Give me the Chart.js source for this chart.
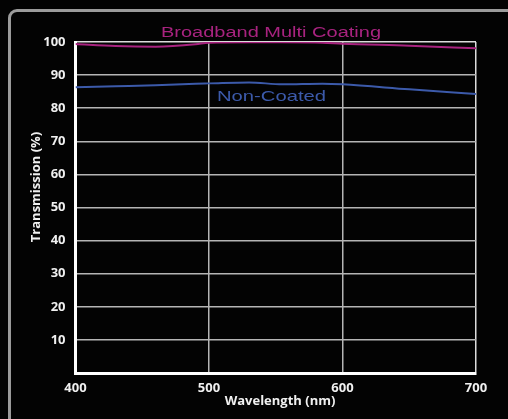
<!DOCTYPE html>
<html>
<head>
<meta charset="utf-8">
<script src="https://cdn.jsdelivr.net/npm/chart.js@4/dist/chart.umd.min.js"></script>
<style>
  html, body { margin: 0; padding: 0; background: #030303; overflow: hidden; }
  #frame {
    position: absolute; left: 8px; top: 9px; width: 540px; height: 450px;
    border: 3px solid #9b9b9b; border-radius: 9px; background: #030303;
  }
  #chart { position: absolute; left: 0; top: 0; }
</style>
</head>
<body>
<div id="frame"></div>
<canvas id="chart" width="508" height="419"></canvas>
<script>
// wavelength (nm) and transmission (%)
const wavelengths = [400, 430, 460, 490, 500, 530, 555, 585, 600, 650, 700];
const multiCoating = [99.4, 98.8, 98.6, 99.3, 99.8, 99.9, 99.9, 99.8, 99.5, 98.9, 98.1];
const nonCoated = [86.3, 86.6, 86.9, 87.4, 87.5, 87.8, 87.2, 87.4, 87.2, 85.7, 84.3];

const seriesNames = ['Broadband Multi Coating', 'Non-Coated'];
const xTitle = 'Wavelength (nm)';
const yTitle = 'Transmission (%)';

const MAGENTA = '#a8237f';
const BLUE = '#3c5aaa';
const TICK_FONT = { family: 'Open Sans', weight: 'bold', size: 13 };

// draws the in-chart series labels and both axis titles
const labelPlugin = {
    id: 'labels',
    afterDraw(chart) {
        const ctx = chart.ctx;

        function stretched(text, x, y, width, color, size) {
            ctx.save();
            ctx.font = size + 'px "Liberation Sans", Arial, sans-serif';
            ctx.fillStyle = color;
            ctx.textBaseline = 'alphabetic';
            const w = ctx.measureText(text).width;
            ctx.translate(x, y);
            ctx.scale(width / w, 1);
            ctx.fillText(text, 0, 0);
            ctx.restore();
        }
        stretched(seriesNames[0], 161, 36.5, 220, MAGENTA, 15.5);
        stretched(seriesNames[1], 217, 101, 109, BLUE, 14.5);

        ctx.save();
        ctx.font = 'bold 13px "Open Sans", sans-serif';
        ctx.fillStyle = '#f0f0f0';
        ctx.textAlign = 'center';
        ctx.textBaseline = 'middle';
        ctx.fillText(xTitle, 280, 401.5);
        ctx.translate(36, 187);
        ctx.rotate(-Math.PI / 2);
        ctx.fillText(yTitle, 0, 0);
        ctx.restore();
    }
};

new Chart(document.getElementById('chart'), {
    type: 'line',
    data: {
        labels: wavelengths,
        datasets: [
            {
                label: seriesNames[0],
                data: wavelengths.map((w, i) => ({ x: w, y: multiCoating[i] })),
                borderColor: MAGENTA,
                borderWidth: 2,
                pointRadius: 0,
                cubicInterpolationMode: 'monotone'
            },
            {
                label: seriesNames[1],
                data: wavelengths.map((w, i) => ({ x: w, y: nonCoated[i] })),
                borderColor: BLUE,
                borderWidth: 2,
                pointRadius: 0,
                cubicInterpolationMode: 'monotone'
            }
        ]
    },
    options: {
        responsive: false,
        animation: false,
        devicePixelRatio: 1,
        layout: { padding: { top: 42, right: 32, left: 0, bottom: 0 } },
        plugins: {
            legend: { display: false },
            tooltip: { enabled: false }
        },
        scales: {
            x: {
                type: 'linear',
                min: 400,
                max: 700,
                ticks: { stepSize: 100, color: '#f0f0f0', font: TICK_FONT, padding: 7, maxRotation: 0 },
                grid: {
                    drawTicks: false,
                    lineWidth: 1.5,
                    color: ctx => ctx.tick && ctx.tick.value === 700 ? '#dcdcdc' : '#b5b5b5'
                },
                border: { color: '#ffffff', width: 3 },
                afterFit: scale => { scale.height = 46; }
            },
            y: {
                min: 0,
                max: 100,
                ticks: {
                    stepSize: 10,
                    color: '#f0f0f0',
                    font: TICK_FONT,
                    padding: 10,
                    callback: v => v === 0 ? '' : v
                },
                grid: {
                    drawTicks: false,
                    lineWidth: 1.5,
                    color: ctx => ctx.tick && ctx.tick.value === 100 ? '#dcdcdc' : '#b5b5b5'
                },
                border: { color: '#ffffff', width: 3 },
                afterFit: scale => { scale.width = 75.5; }
            }
        }
    },
    plugins: [labelPlugin]
});
</script>
</body>
</html>
